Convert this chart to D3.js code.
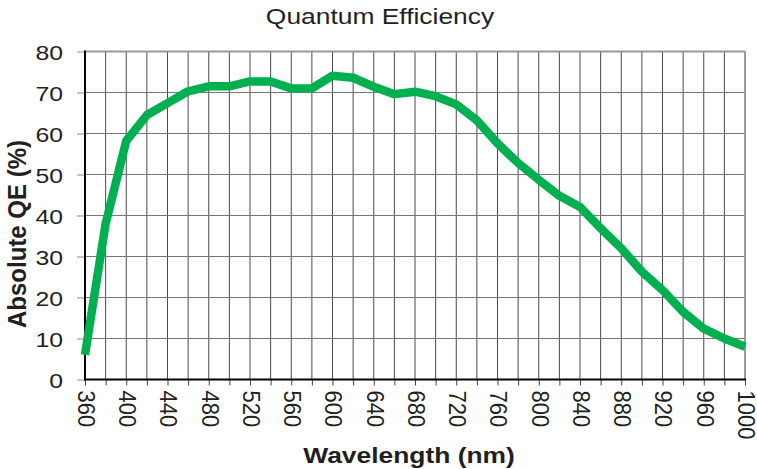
<!DOCTYPE html>
<html>
<head>
<meta charset="utf-8">
<script src="https://cdn.jsdelivr.net/npm/d3@7"></script>
<style>
  body { margin: 0; background: #fff; }
  text { font-family: "Liberation Sans", Arial, sans-serif; fill: #231f20; }
</style>
</head>
<body>
<svg id="chart" width="757" height="469"></svg>
<script>
// wavelength (nm) and absolute QE (%)
var wavelengths = [360, 380, 400, 420, 440, 460, 480, 500, 520, 540, 560, 580, 600, 620, 640, 660,
                   680, 700, 720, 740, 760, 780, 800, 820, 840, 860, 880, 900, 920, 940, 960, 980, 1000];
var qe = [6, 38, 58.2, 64.5, 67.4, 70.3, 71.5, 71.5, 72.7, 72.7, 71, 71, 74.1, 73.6, 71.4, 69.6,
          70.2, 69.1, 67.1, 63.2, 57.6, 52.8, 48.7, 44.8, 42.1, 36.9, 32, 26.3, 21.8, 16.5, 12.4, 10, 8];
var xGrid = d3.range(360, 1001, 20);
var xLabels = d3.range(360, 1001, 40);
var yTicks = d3.range(0, 81, 10);

function drawChart() {
    var svg = d3.select("#chart");
    // note: "top" is taken by window.top, so use plot* names
    var plotLeft = 85, plotRight = 745, plotTop = 51.5, plotBottom = 379.5;

    var x = d3.scaleLinear().domain([360, 1000]).range([plotLeft, plotRight]);
    var y = d3.scaleLinear().domain([0, 80]).range([plotBottom, plotTop]);

    // grid
    svg.append("g").selectAll("line").data(xGrid).join("line")
        .attr("x1", d => x(d)).attr("x2", d => x(d))
        .attr("y1", plotTop).attr("y2", plotBottom)
        .attr("stroke", "#4a4a4a").attr("stroke-width", 1);
    svg.append("g").selectAll("line").data(yTicks).join("line")
        .attr("x1", plotLeft).attr("x2", plotRight)
        .attr("y1", d => y(d)).attr("y2", d => y(d))
        .attr("stroke", "#777").attr("stroke-width", 1.2);

    // frame: grey top/right, black left/bottom
    svg.append("line").attr("x1", plotLeft).attr("x2", plotRight).attr("y1", plotTop).attr("y2", plotTop)
        .attr("stroke", "#999").attr("stroke-width", 2);
    svg.append("line").attr("x1", plotRight).attr("x2", plotRight).attr("y1", plotTop).attr("y2", plotBottom)
        .attr("stroke", "#999").attr("stroke-width", 2);

    // axes
    var xAxis = d3.axisBottom(x).tickValues(xGrid).tickSize(6)
        .tickFormat(d => xLabels.indexOf(d) >= 0 ? d : "");
    var gx = svg.append("g").attr("transform", "translate(0," + plotBottom + ")").call(xAxis);
    gx.select(".domain").remove();
    gx.selectAll(".tick line").attr("stroke", "#444");
    gx.selectAll(".tick text")
        .attr("x", 0).attr("y", 0).attr("dy", null)
        .attr("text-anchor", "start")
        .attr("dominant-baseline", "central")
        .attr("transform", "translate(0,11) scale(1.05,1) rotate(90)")
        .style("font-size", "22px");

    var yAxis = d3.axisLeft(y).tickValues(yTicks).tickSize(8);
    var gy = svg.append("g").attr("transform", "translate(" + plotLeft + ",0)").call(yAxis);
    gy.select(".domain").remove();
    gy.selectAll(".tick line").attr("stroke", "#888");
    gy.selectAll(".tick text")
        .attr("x", 0).attr("dy", "0.36em")
        .attr("transform", "translate(-22,0) scale(1.18,1)")
        .style("font-size", "21px");

    svg.append("line").attr("x1", plotLeft).attr("x2", plotLeft).attr("y1", plotTop - 1).attr("y2", plotBottom + 1)
        .attr("stroke", "#000").attr("stroke-width", 2);
    svg.append("line").attr("x1", plotLeft - 1).attr("x2", plotRight + 1).attr("y1", plotBottom).attr("y2", plotBottom)
        .attr("stroke", "#000").attr("stroke-width", 2);

    // curve
    var line = d3.line()
        .x((d, i) => x(wavelengths[i]))
        .y(d => y(d));
    svg.append("path").attr("d", line(qe))
        .attr("fill", "none")
        .attr("stroke", "#00b050")
        .attr("stroke-width", 8.5)
        .attr("stroke-linejoin", "round");

    // titles
    svg.append("text")
        .attr("transform", "translate(380,24) scale(1.2,1)")
        .attr("text-anchor", "middle")
        .style("font-size", "22px")
        .text("Quantum Efficiency");

    svg.append("text")
        .attr("transform", "translate(409,463) scale(1.2,1)")
        .attr("text-anchor", "middle")
        .style("font-size", "22px").style("font-weight", "bold")
        .text("Wavelength (nm)");

    svg.append("text")
        .attr("transform", "translate(26,234) scale(1.1,1) rotate(-90)")
        .attr("text-anchor", "middle")
        .style("font-size", "24px").style("font-weight", "bold")
        .text("Absolute QE (%)");
}

drawChart();
</script>
</body>
</html>
